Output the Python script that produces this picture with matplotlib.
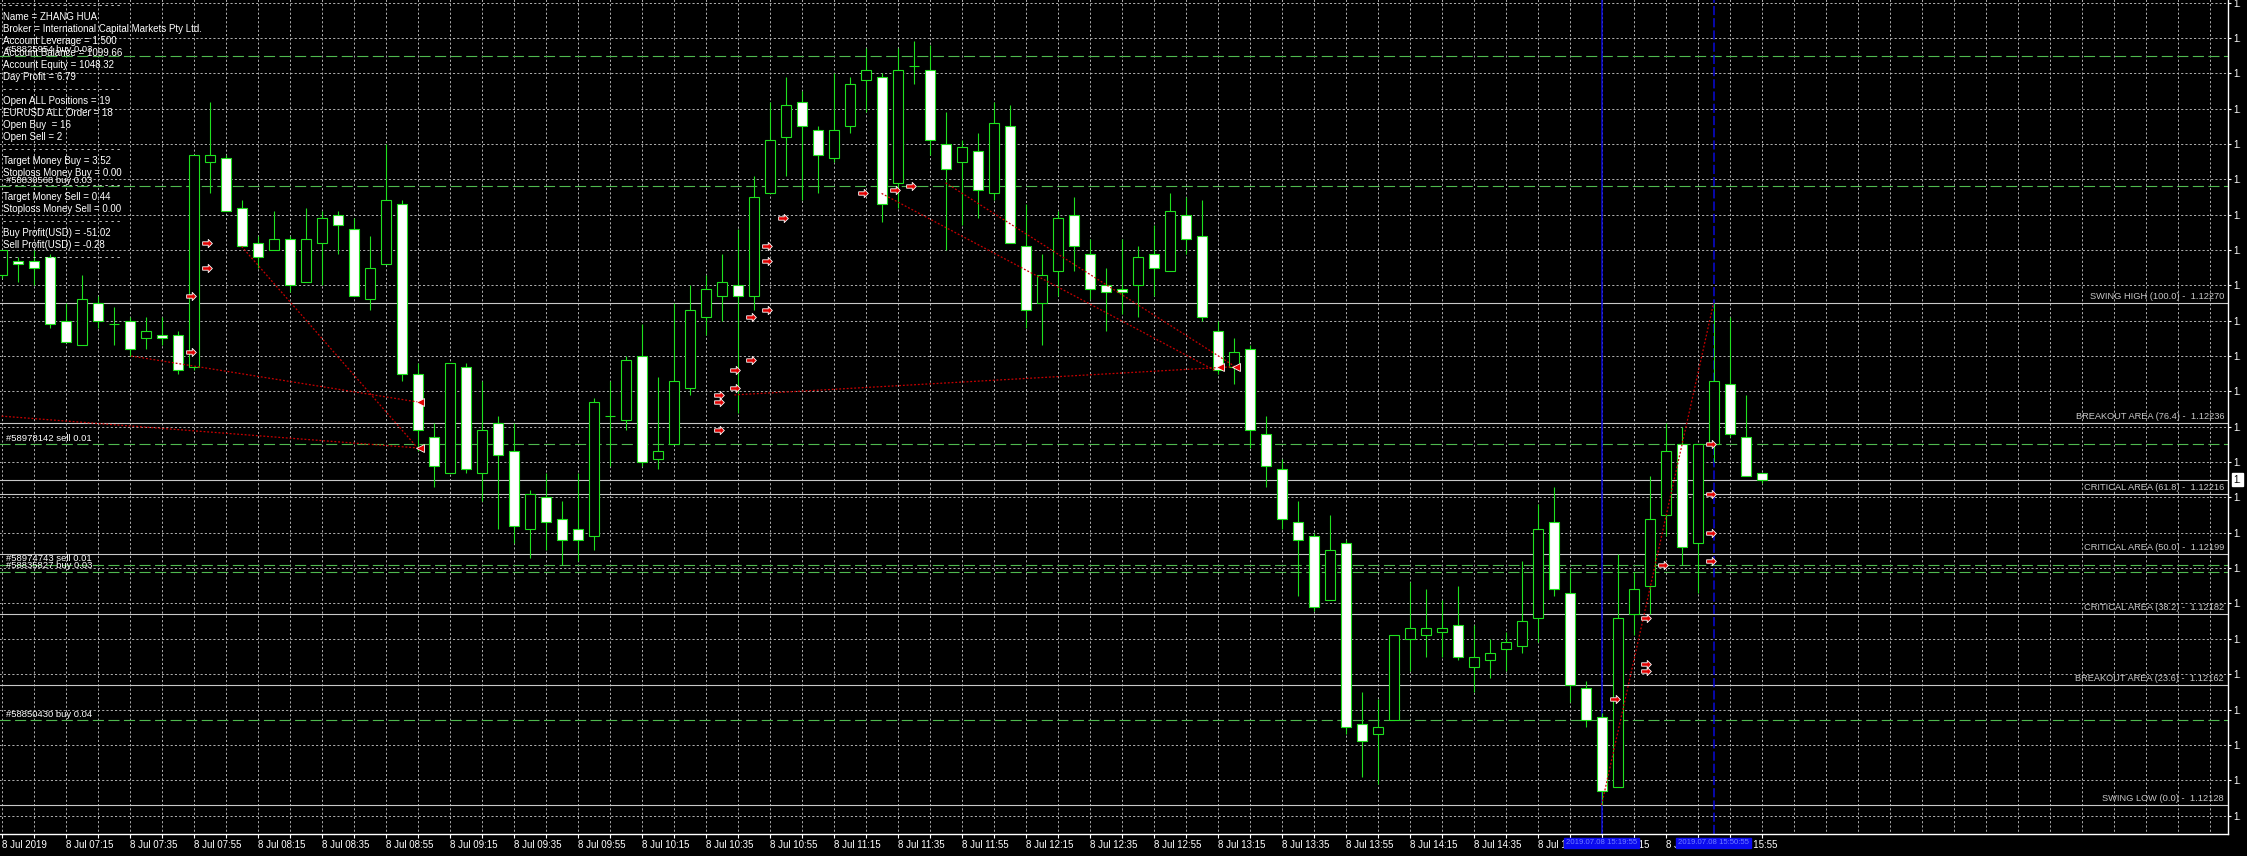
import numpy as np
import pandas as pd
import matplotlib
matplotlib.use('Agg')
import matplotlib.pyplot as plt
from matplotlib.path import Path
from matplotlib.transforms import Affine2D, blended_transform_factory, offset_copy

# EURUSD M5, 8 Jul 2019, bars from 06:55
opens = [1.12278, 1.12282, 1.12282, 1.12283, 1.12265, 1.12258, 1.12270, 1.12264, 1.12265, 1.12260,
         1.12261, 1.12261, 1.12252, 1.12310, 1.12311, 1.12297, 1.12287, 1.12285, 1.12288, 1.12276,
         1.12287, 1.12295, 1.12291, 1.12271, 1.12281, 1.12298, 1.12250, 1.12232, 1.12222, 1.12252,
         1.12222, 1.12236, 1.12228, 1.12206, 1.12215, 1.12209, 1.12206, 1.12204, 1.12238, 1.12237,
         1.12255, 1.12226, 1.12230, 1.12246, 1.12266, 1.12272, 1.12275, 1.12272, 1.12301, 1.12317,
         1.12327, 1.12319, 1.12311, 1.12320, 1.12333, 1.12334, 1.12304, 1.12337, 1.12336, 1.12315,
         1.12310, 1.12313, 1.12301, 1.12320, 1.12286, 1.12270, 1.12279, 1.12295, 1.12284, 1.12275,
         1.12274, 1.12275, 1.12284, 1.12279, 1.12295, 1.12289, 1.12262, 1.12252, 1.12257, 1.12233,
         1.12223, 1.12208, 1.12204, 1.12186, 1.12202, 1.12151, 1.12148, 1.12152, 1.12175, 1.12176,
         1.12177, 1.12179, 1.12167, 1.12169, 1.12172, 1.12173, 1.12181, 1.12208, 1.12188, 1.12161,
         1.12153, 1.12133, 1.12182, 1.12190, 1.12210, 1.12230, 1.12202, 1.12230, 1.12247, 1.12232,
         1.12222]
highs = [1.12285, 1.12283, 1.12285, 1.12284, 1.12270, 1.12278, 1.12272, 1.12269, 1.12266, 1.12266,
         1.12266, 1.12262, 1.12312, 1.12327, 1.12312, 1.12299, 1.12289, 1.12296, 1.12289, 1.12297,
         1.12296, 1.12296, 1.12294, 1.12289, 1.12315, 1.12299, 1.12253, 1.12236, 1.12253, 1.12253,
         1.12248, 1.12238, 1.12236, 1.12217, 1.12222, 1.12214, 1.12222, 1.12243, 1.12248, 1.12255,
         1.12264, 1.12249, 1.12270, 1.12275, 1.12278, 1.12284, 1.12291, 1.12306, 1.12327, 1.12334,
         1.12330, 1.12320, 1.12335, 1.12334, 1.12342, 1.12335, 1.12342, 1.12344, 1.12343, 1.12324,
         1.12316, 1.12318, 1.12327, 1.12326, 1.12298, 1.12284, 1.12296, 1.12300, 1.12288, 1.12280,
         1.12288, 1.12286, 1.12292, 1.12301, 1.12300, 1.12299, 1.12265, 1.12260, 1.12258, 1.12238,
         1.12226, 1.12214, 1.12205, 1.12210, 1.12203, 1.12160, 1.12158, 1.12176, 1.12191, 1.12189,
         1.12186, 1.12190, 1.12179, 1.12175, 1.12177, 1.12197, 1.12213, 1.12218, 1.12195, 1.12163,
         1.12154, 1.12199, 1.12194, 1.12221, 1.12236, 1.12235, 1.12230, 1.12270, 1.12266, 1.12244,
         1.12222]
lows = [1.12277, 1.12276, 1.12275, 1.12263, 1.12259, 1.12258, 1.12263, 1.12258, 1.12255, 1.12257,
        1.12258, 1.12250, 1.12251, 1.12301, 1.12296, 1.12286, 1.12280, 1.12285, 1.12273, 1.12276,
        1.12275, 1.12284, 1.12272, 1.12268, 1.12281, 1.12248, 1.12228, 1.12218, 1.12222, 1.12222,
        1.12214, 1.12206, 1.12202, 1.12198, 1.12200, 1.12196, 1.12197, 1.12200, 1.12224, 1.12234,
        1.12224, 1.12223, 1.12230, 1.12244, 1.12261, 1.12265, 1.12239, 1.12268, 1.12301, 1.12306,
        1.12299, 1.12301, 1.12310, 1.12318, 1.12324, 1.12293, 1.12297, 1.12332, 1.12312, 1.12285,
        1.12292, 1.12294, 1.12299, 1.12287, 1.12263, 1.12258, 1.12272, 1.12279, 1.12271, 1.12262,
        1.12267, 1.12266, 1.12272, 1.12279, 1.12284, 1.12265, 1.12250, 1.12247, 1.12229, 1.12218,
        1.12206, 1.12187, 1.12183, 1.12186, 1.12148, 1.12136, 1.12134, 1.12152, 1.12166, 1.12170,
        1.12170, 1.12169, 1.12160, 1.12164, 1.12166, 1.12171, 1.12174, 1.12187, 1.12157, 1.12150,
        1.12128, 1.12133, 1.12176, 1.12182, 1.12204, 1.12196, 1.12188, 1.12225, 1.12232, 1.12221,
        1.12219]
closes = [1.12285, 1.12281, 1.12280, 1.12264, 1.12259, 1.12271, 1.12265, 1.12264, 1.12257, 1.12262,
          1.12260, 1.12251, 1.12312, 1.12312, 1.12296, 1.12286, 1.12283, 1.12288, 1.12275, 1.12288,
          1.12294, 1.12292, 1.12272, 1.12280, 1.12299, 1.12250, 1.12234, 1.12224, 1.12253, 1.12223,
          1.12234, 1.12227, 1.12207, 1.12216, 1.12208, 1.12203, 1.12203, 1.12242, 1.12238, 1.12254,
          1.12225, 1.12228, 1.12248, 1.12268, 1.12274, 1.12276, 1.12272, 1.12300, 1.12316, 1.12326,
          1.12320, 1.12312, 1.12319, 1.12332, 1.12336, 1.12298, 1.12336, 1.12337, 1.12316, 1.12308,
          1.12314, 1.12302, 1.12321, 1.12287, 1.12268, 1.12278, 1.12294, 1.12286, 1.12274, 1.12273,
          1.12273, 1.12283, 1.12280, 1.12296, 1.12288, 1.12266, 1.12251, 1.12256, 1.12234, 1.12224,
          1.12209, 1.12203, 1.12184, 1.12200, 1.12150, 1.12146, 1.12150, 1.12176, 1.12178, 1.12178,
          1.12178, 1.12170, 1.12170, 1.12171, 1.12174, 1.12180, 1.12206, 1.12189, 1.12162, 1.12152,
          1.12132, 1.12181, 1.12189, 1.12209, 1.12228, 1.12201, 1.12230, 1.12248, 1.12233, 1.12221,
          1.12220]

bid = 1.12220

fib_names = ["SWING HIGH (100.0) -  1.12270", "BREAKOUT AREA (76.4) -  1.12236",
             "CRITICAL AREA (61.8) -  1.12216", "CRITICAL AREA (50.0) -  1.12199",
             "CRITICAL AREA (38.2) -  1.12182", "BREAKOUT AREA (23.6) -  1.12162",
             "SWING LOW (0.0) -  1.12128"]
fib_prices = [1.12270, 1.12236, 1.12216, 1.12199, 1.12182, 1.12162, 1.12128]
fib_anchor_x = [100, 107]
fib_anchor_p = [1.12128, 1.12270]

order_labels = ["#58825954 buy 0.03", "#58830568 buy 0.03", "#58978142 sell 0.01",
                "#58974743 sell 0.01", "#58835827 buy 0.03", "#58850430 buy 0.04"]
order_prices = [1.12340, 1.12303, 1.12230, 1.12196, 1.12194, 1.12152]

# closed trade connectors (bar index, price) -> (bar index, price)
trade_x0 = [8.1, 0.0, 15.0, 55.0, 59.0, 45.8]
trade_p0 = [1.12255, 1.12238, 1.12286, 1.12301, 1.12304, 1.12244]
trade_x1 = [26.0, 26.0, 26.0, 75.8, 77.1, 77.1]
trade_p1 = [1.12242, 1.12229, 1.12229, 1.12251, 1.12252, 1.12252]

buy_arrow_x = [12.86, 12.86, 11.83, 11.83, 48.86, 47.86, 47.86, 47.86, 46.83, 46.83,
               45.83, 45.83, 44.83, 44.83, 44.83, 53.86, 55.83, 56.83, 100.83, 102.8,
               102.8, 102.8, 103.86, 106.83, 106.83, 106.83, 106.83]
buy_arrow_p = [1.12287, 1.12280, 1.12272, 1.12256, 1.12294, 1.12286, 1.12282, 1.12268, 1.12266, 1.12254,
               1.12251, 1.12246, 1.12244, 1.12242, 1.12234, 1.12301, 1.12302, 1.12303, 1.12158, 1.12168,
               1.12166, 1.12181, 1.12196, 1.12230, 1.12216, 1.12205, 1.12197]
sell_arrow_x = [26.14, 26.14, 76.14, 77.12]
sell_arrow_p = [1.12242, 1.12229, 1.12252, 1.12252]

vline_x = [100, 107]
vline_text = ["2019.07.08 15:19:55", "2019.07.08 15:50:55"]

SEP = " ".join(["-"] * 20)
info_lines = [
    SEP,
    "Name = ZHANG HUA",
    "Broker = International Capital Markets Pty Ltd.",
    "Account Leverage = 1:500",
    "Account Balance = 1099.66",
    "Account Equity = 1048.32",
    "Day Profit = 6.79",
    SEP,
    "Open ALL Positions = 19",
    "EURUSD ALL Order = 18",
    "Open Buy  = 16",
    "Open Sell = 2",
    SEP,
    "Target Money Buy = 3.52",
    "Stoploss Money Buy = 0.00",
    SEP,
    "Target Money Sell = 0.44",
    "Stoploss Money Sell = 0.00",
    SEP,
    "Buy Profit(USD) = -51.02",
    "Sell Profit(USD) = -0.28",
    SEP,
]

times = pd.date_range("2019-07-08 06:55", periods=len(opens), freq="5min")

plt.rcParams["font.family"] = ["Liberation Sans", "DejaVu Sans"]
GREEN = "#1fe01f"
W, H = 2247, 856
fig = plt.figure(figsize=(W / 100, H / 100), dpi=100, facecolor="black")
ax = fig.add_axes([0, (H - 834) / H, 2228 / W, 834 / H])
ax.set_facecolor("black")
ax.set_xlim(-0.1, -0.1 + 2228 / 16)
ax.set_ylim(1.12270 - 531 / 353500, 1.12270 + 303 / 353500)

x = np.arange(len(opens))
o = np.array(opens)
c = np.array(closes)

# grid
grid_p = np.round(np.arange(1.12125, 1.12356, 0.0001), 5)
ax.hlines(grid_p, -1, 140, colors="#b0b0b0", linewidth=0.7, linestyles=(0, (2.2, 2.2)), zorder=1)
ax.vlines(np.arange(0, 140, 2), 1.1, 1.2, colors="#b0b0b0", linewidth=0.7, linestyles=(0, (2.2, 2.2)), zorder=1)

# fibo levels and bid line
ax.hlines(fib_prices, -1, 140, colors="#c8c8c8", linewidth=0.8, zorder=1.5)
ax.axhline(bid, color="#c8c8c8", linewidth=0.8, zorder=1.5)
ax.plot(fib_anchor_x, fib_anchor_p, color="#c80000", linewidth=0.9, linestyle=(0, (1.5, 1.5)), zorder=4)
tr_fib = offset_copy(blended_transform_factory(ax.transAxes, ax.transData), fig, x=-4, y=6.5, units="dots")
for name, p in zip(fib_names, fib_prices):
    ax.text(1, p, name, transform=tr_fib, ha="right", va="center", color="#c8c8c8", fontsize=6.7)

# order lines
ax.hlines(order_prices, -1, 140, colors="#4fb84f", linewidth=0.8, linestyles=(0, (10, 4)), zorder=1.6)
tr_ord = offset_copy(blended_transform_factory(ax.transAxes, ax.transData), fig, x=6, y=6, units="dots")
for lab, p in zip(order_labels, order_prices):
    ax.text(0, p, lab, transform=tr_ord, ha="left", va="center", color="white", fontsize=6.8, zorder=6)

# vertical lines
ax.axvline(vline_x[0], color="#0a0ad8", linewidth=1.1, zorder=1.8)
ax.axvline(vline_x[1], color="#0a0ad8", linewidth=1.1, linestyle=(0, (6, 2)), zorder=1.8)

# trade connectors
for xa, pa, xb, pb in zip(trade_x0, trade_p0, trade_x1, trade_p1):
    ax.plot([xa, xb], [pa, pb], color="#c80000", linewidth=0.9, linestyle=(0, (1.5, 1.5)), zorder=4)

# candles
ax.vlines(x, lows, highs, colors=GREEN, linewidth=0.8, zorder=2)
faces = np.where(c >= o, "black", "white")
ax.bar(x, np.abs(c - o), bottom=np.minimum(o, c), width=0.62, color=faces,
       edgecolor=GREEN, linewidth=0.8, zorder=3)

# arrows
arrow = Path([(-1, -0.35), (0.15, -0.35), (0.15, -0.85), (1, 0), (0.15, 0.85), (0.15, 0.35), (-1, 0.35), (-1, -0.35)],
             [Path.MOVETO] + [Path.LINETO] * 6 + [Path.CLOSEPOLY])
ax.plot(buy_arrow_x, buy_arrow_p, linestyle="none", marker=arrow, markersize=7,
        markerfacecolor="#e00000", markeredgecolor="white", markeredgewidth=0.6, zorder=5)
ax.plot(sell_arrow_x, sell_arrow_p, linestyle="none", marker="<", markersize=5.5,
        markerfacecolor="#e00000", markeredgecolor="white", markeredgewidth=0.6, zorder=5)

# axes look
for side in ["left", "top"]:
    ax.spines[side].set_visible(False)
for side in ["right", "bottom"]:
    ax.spines[side].set_color("white")
    ax.spines[side].set_linewidth(1)
ax.yaxis.tick_right()
ax.set_yticks(grid_p)
ax.set_yticklabels(["1."] * len(grid_p))
ax.tick_params(axis="y", colors="white", labelsize=7, length=2, pad=2)

ticks = np.arange(0, len(opens), 2)
ax.set_xticks(ticks)
labels = []
for i in ticks:
    if i % 4:
        labels.append("")
    elif i == 0:
        labels.append(f"{times[i].day} Jul {times[i].year}")
    else:
        labels.append(f"{times[i].day} Jul {times[i]:%H:%M}")
ax.set_xticklabels(labels)
for lab in ax.get_xticklabels():
    lab.set_ha("left")
ax.tick_params(axis="x", colors="white", labelsize=7, length=3, pad=1.5)

# bid price box
ax.text(1.0025, bid, "1.", transform=blended_transform_factory(ax.transAxes, ax.transData),
        ha="left", va="center", color="black", fontsize=7,
        bbox=dict(boxstyle="square,pad=0.15", facecolor="white", edgecolor="white"))

# vertical line time boxes on the time scale
tr_vl = offset_copy(blended_transform_factory(ax.transData, ax.transAxes), fig, x=0, y=-9, units="dots")
for xv, s in zip(vline_x, vline_text):
    ax.text(xv, 0, s, transform=tr_vl, ha="center", va="center", color="#6f7dff", fontsize=5.6,
            clip_on=False, zorder=10,
            bbox=dict(boxstyle="square,pad=0.25", facecolor="#0b0bf0", edgecolor="#0b0bf0"))

# info panel (pixel coords from top-left)
px = Affine2D().scale(1, -1).translate(0, H)
for k, s in enumerate(info_lines):
    fig.text(3, 4.7 + 12 * k, s, transform=px, ha="left", va="center", color="white", fontsize=7, zorder=10)

fig.savefig("out.png", dpi=100, facecolor="black")
